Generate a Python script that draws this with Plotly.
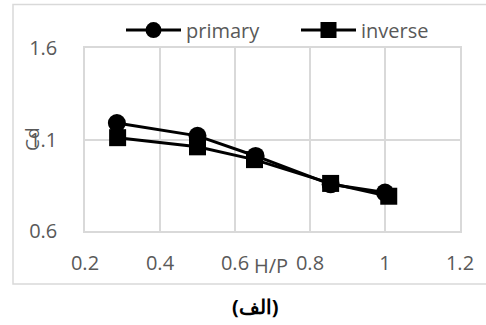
import plotly.graph_objects as go

x_primary = [0.285, 0.50, 0.655, 0.855, 1.00]
y_primary = [1.19, 1.12, 1.01, 0.855, 0.81]
x_inverse = [0.287, 0.50, 0.652, 0.855, 1.01]
y_inverse = [1.11, 1.06, 0.99, 0.86, 0.79]
x_ticks = [0.2, 0.4, 0.6, 0.8, 1.0, 1.2]
x_ticklabels = ["0.2", "0.4", "0.6", "0.8", "1", "1.2"]
y_ticks = [0.6, 1.1, 1.6]
y_ticklabels = ["0.6", "1.1", "1.6"]

FONT = "Open Sans"
GRAY = "#595959"
GRID = "#d9d9d9"

fig = go.Figure()
fig.add_trace(go.Scatter(x=x_primary, y=y_primary, name="primary", mode="lines+markers",
                         line=dict(color="black", width=3),
                         marker=dict(symbol="circle", size=18, color="black")))
fig.add_trace(go.Scatter(x=x_inverse, y=y_inverse, name="inverse", mode="lines+markers",
                         line=dict(color="black", width=3),
                         marker=dict(symbol="square", size=17, color="black")))

fig.update_layout(
    width=486, height=325,
    margin=dict(l=85, r=26, t=48, b=94, autoexpand=False),
    paper_bgcolor="white", plot_bgcolor="white",
    font=dict(family=FONT, color=GRAY, size=19),
    showlegend=True,
    legend=dict(orientation="h", x=(121 - 85) / 375, y=1.098, xanchor="left", yanchor="middle",
                font=dict(size=20, color=GRAY), bgcolor="rgba(0,0,0,0)",
                entrywidth=105, itemwidth=55),
    xaxis=dict(range=[0.2, 1.2], tickvals=x_ticks, ticktext=x_ticklabels,
               showgrid=True, gridcolor=GRID, gridwidth=1.5,
               showline=True, linecolor=GRID, linewidth=1.5, mirror=True,
               zeroline=False, ticks="", ticklabelstandoff=13,
               tickfont=dict(size=20, color=GRAY)),
    yaxis=dict(range=[0.6, 1.6], tickvals=y_ticks, ticktext=y_ticklabels,
               showgrid=True, gridcolor=GRID, gridwidth=1.5,
               showline=True, linecolor=GRID, linewidth=1.5, mirror=True,
               zeroline=False, ticks="", ticklabelstandoff=22,
               tickfont=dict(size=20, color=GRAY)),
)

fig.add_shape(type="rect", xref="paper", yref="paper",
              x0=-0.192, x1=1.075, y0=-0.29, y1=1.238,
              line=dict(color=GRID, width=1.5), fillcolor="rgba(0,0,0,0)", layer="below")

fig.add_annotation(text="H/P", xref="paper", yref="paper", x=(271 - 85) / 375, y=(231 - 265) / 183,
                   showarrow=False, xanchor="center", yanchor="middle",
                   font=dict(size=20, color=GRAY, family=FONT))
fig.add_annotation(text="Cd", xref="paper", yref="paper", x=(32 - 85) / 375, y=(231 - 139) / 183,
                   showarrow=False, textangle=-90, xanchor="center", yanchor="middle",
                   font=dict(size=19, color=GRAY, family=FONT))
fig.add_annotation(text="<b>(الف)</b>", xref="paper", yref="paper", x=(255 - 85) / 375, y=(231 - 306) / 183,
                   showarrow=False, xanchor="center", yanchor="middle",
                   font=dict(size=20, color="black", family="Noto Sans"))

fig.write_html("out.html", config={"displayModeBar": False},
               post_script="document.body.style.margin='0';")
